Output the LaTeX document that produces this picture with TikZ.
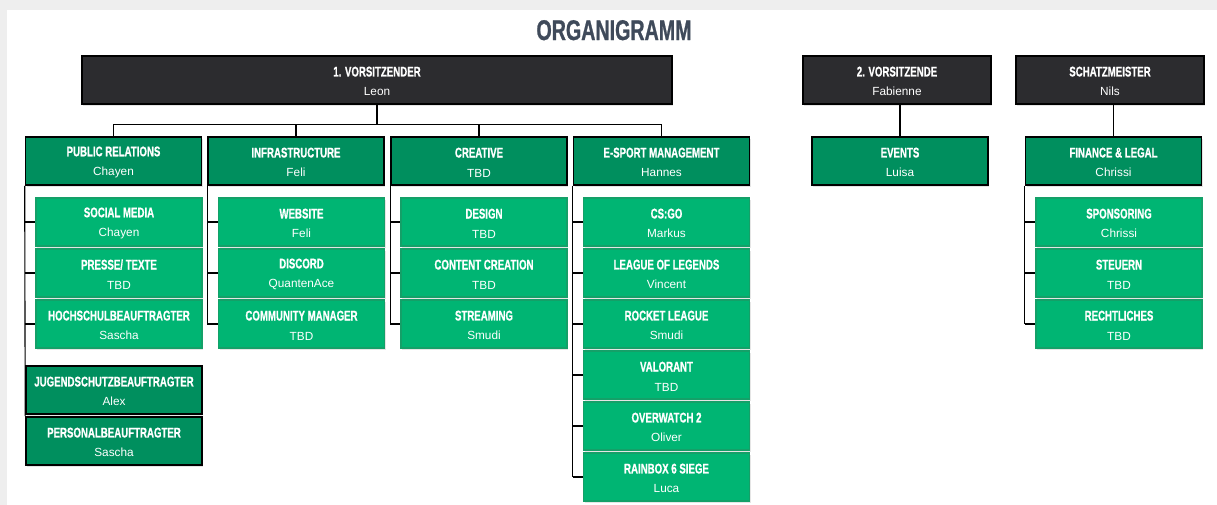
\documentclass[tikz,border=0pt]{standalone}
\usepackage{fontspec}
\setmainfont{Liberation Sans}
\newfontfamily\hdfont[FakeStretch=0.69,FakeBold=0.8]{Liberation Sans}
\usetikzlibrary{shadows}

\definecolor{pagegrey}{HTML}{EEEEEE}
\definecolor{titlegrey}{HTML}{3F4A5A}
\definecolor{leaddark}{HTML}{2C2C2F}
\definecolor{deptgreen}{HTML}{008F5E}
\definecolor{teamgreen}{HTML}{00B573}
\definecolor{teamedge}{HTML}{14A068}

\newcommand\hd{\fontsize{14}{19.5}\hdfont\bfseries\rule{0pt}{12.5pt}}
\newcommand\nm{\fontsize{11.8}{19.5}\selectfont}

\tikzset{
  box/.style={rectangle, minimum height=48, inner sep=0pt, align=center, text=white, font=\nm,
    drop shadow={shadow xshift=1pt, shadow yshift=-1.5pt, opacity=0.2}},
  lead/.style={box, draw=black, line width=1.6pt, fill=leaddark, minimum width=#1},
  dept/.style={box, draw=black, line width=1.6pt, fill=deptgreen, minimum width=176},
  team/.style={box, draw=teamedge, line width=1.2pt, fill=teamgreen, minimum width=166},
  link/.style={draw=black, line width=1.1pt}
}

\begin{document}
\begin{tikzpicture}[x=1pt, y=-1pt]
  \useasboundingbox (0,0) rectangle (1217,504);
  \fill[pagegrey] (-10,-10) rectangle (1230,520);
  \fill[white] (7,10) rectangle (1230,520);

  \node[font=\fontsize{28.5}{30}\hdfont\bfseries, text=titlegrey, anchor=base] (title) at (614,40) {ORGANIGRAMM};

  % board
  \node[lead=590] (vors1) at (377,80) {\hd 1. VORSITZENDER\\\nm Leon};
  \node[lead=188] (vors2) at (897,80) {\hd 2. VORSITZENDE\\\nm Fabienne};
  \node[lead=188] (schatz) at (1110,80) {\hd SCHATZMEISTER\\\nm Nils};

  % departments
  \node[dept] (pr) at (113.5,161) {\hd PUBLIC RELATIONS\\\nm Chayen};
  \node[dept] (infra) at (296,161) {\hd INFRASTRUCTURE\\\nm Feli};
  \node[dept] (crea) at (479,161) {\hd CREATIVE\\\nm TBD};
  \node[dept] (esp) at (661.5,161) {\hd E-SPORT MANAGEMENT\\\nm Hannes};
  \node[dept] (events) at (900,161) {\hd EVENTS\\\nm Luisa};
  \node[dept] (fin) at (1113.5,161) {\hd FINANCE \& LEGAL\\\nm Chrissi};

  % teams
  \node[team] (socmed) at (119,222) {\hd SOCIAL MEDIA\\\nm Chayen};
  \node[team] (presse) at (119,273) {\hd PRESSE/ TEXTE\\\nm TBD};
  \node[team] (hochsch) at (119,324) {\hd HOCHSCHULBEAUFTRAGTER\\\nm Sascha};
  \node[team] (web) at (301.5,222) {\hd WEBSITE\\\nm Feli};
  \node[team] (discord) at (301.5,273) {\hd DISCORD\\\nm QuantenAce};
  \node[team] (commu) at (301.5,324) {\hd COMMUNITY MANAGER\\\nm TBD};
  \node[team] (design) at (484,222) {\hd DESIGN\\\nm TBD};
  \node[team] (content) at (484,273) {\hd CONTENT CREATION\\\nm TBD};
  \node[team] (stream) at (484,324) {\hd STREAMING\\\nm Smudi};
  \node[team] (csgo) at (666.5,222) {\hd CS:GO\\\nm Markus};
  \node[team] (lol) at (666.5,273) {\hd LEAGUE OF LEGENDS\\\nm Vincent};
  \node[team] (rocket) at (666.5,324) {\hd ROCKET LEAGUE\\\nm Smudi};
  \node[team] (valo) at (666.5,375) {\hd VALORANT\\\nm TBD};
  \node[team] (ow) at (666.5,426) {\hd OVERWATCH 2\\\nm Oliver};
  \node[team] (rsix) at (666.5,477) {\hd RAINBOX 6 SIEGE\\\nm Luca};
  \node[team] (spons) at (1119,222) {\hd SPONSORING\\\nm Chrissi};
  \node[team] (steuer) at (1119,273) {\hd STEUERN\\\nm TBD};
  \node[team] (recht) at (1119,324) {\hd RECHTLICHES\\\nm TBD};

  % staff
  \node[dept] (jugend) at (114,390) {\hd JUGENDSCHUTZBEAUFTRAGTER\\\nm Alex};
  \node[dept] (personal) at (114,441) {\hd PERSONALBEAUFTRAGTER\\\nm Sascha};

  % connectors
  \path[link] (vors1.south) -- ++(0,20) coordinate (bus);
  \path[link] (pr.north) |- (bus) -| (esp.north);
  \path[link] (infra.north) -- (infra.north |- bus);
  \path[link] (crea.north) -- (crea.north |- bus);
  \path[link] (events.north) -- (events.north |- vors2.south);
  \path[link] (fin.north) -- (fin.north |- schatz.south);

  \path[link] (pr.south west) -- (personal.north west);
  \path[link] (infra.south west) -- (infra.south west |- commu.west);
  \path[link] (crea.south west) -- (crea.south west |- stream.west);
  \path[link] (esp.south west) -- (esp.south west |- rsix.west);
  \path[link] (fin.south west) -- (fin.south west |- recht.west);
  \foreach \d/\t in {pr/socmed, pr/presse, pr/hochsch, infra/web, infra/discord, infra/commu,
    crea/design, crea/content, crea/stream, esp/csgo, esp/lol, esp/rocket, esp/valo, esp/ow,
    esp/rsix, fin/spons, fin/steuer, fin/recht}
    \path[link] (\d.south west |- \t.west) -- (\t.west);
\end{tikzpicture}
\end{document}
